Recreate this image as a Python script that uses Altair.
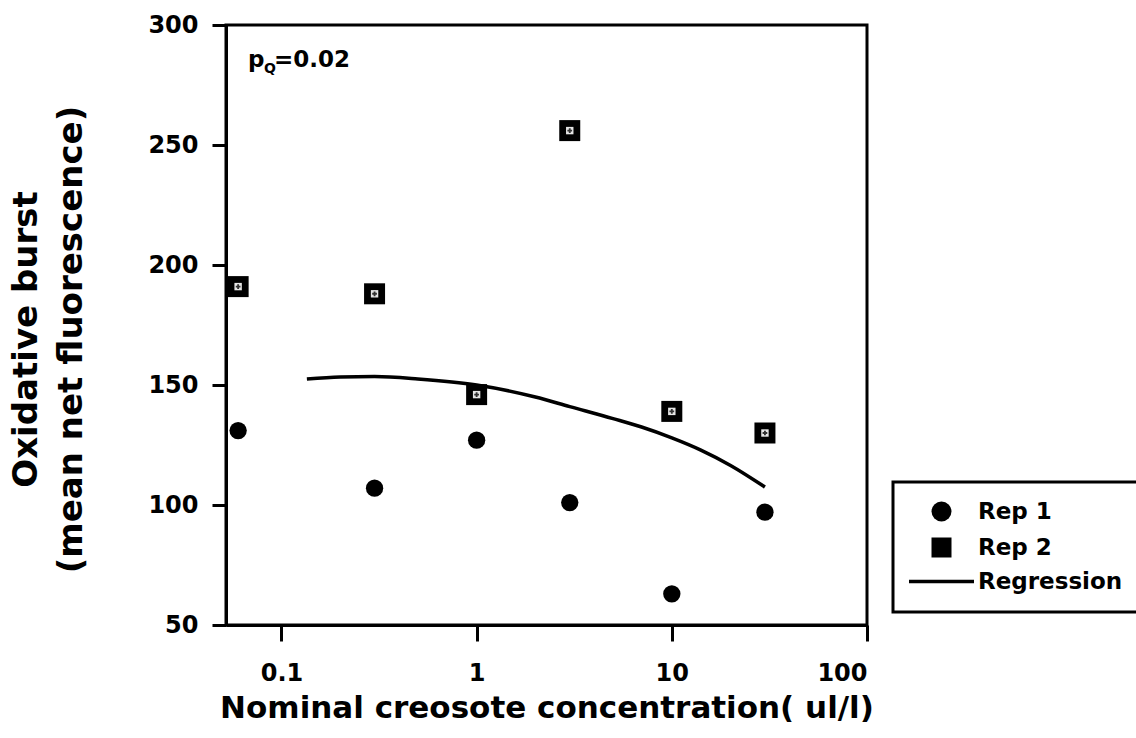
import altair as alt
import pandas as pd

# ---- data ----
conc = [0.06, 0.3, 1, 3, 10, 30]
rep1 = [131, 107, 127, 101, 63, 97]
rep2 = [191, 188, 146, 256, 139, 130]

reg_x = [0.135, 0.2, 0.3, 0.5, 1, 2, 3, 5, 7, 10, 14, 20, 30]
reg_y = [152.5, 153.3, 153.5, 152.5, 150, 145, 141, 136, 132.5, 128, 123, 116.5, 107.5]

x_ticks = [0.1, 1, 10, 100]
y_ticks = [50, 100, 150, 200, 250, 300]

series_names = ["Rep 1", "Rep 2", "Regression"]
# legend glyph for the regression entry: a long thin filled bar (custom symbol path)
line_glyph = "M-3.25,-0.17L3.25,-0.17L3.25,0.17L-3.25,0.17Z"

FONT = "DejaVu Sans"

rep1_df = pd.DataFrame({"conc": conc, "value": rep1, "series": ["Rep 1"] * len(conc)})
rep2_df = pd.DataFrame({"conc": conc, "value": rep2, "series": ["Rep 2"] * len(conc)})
reg_df = pd.DataFrame({"conc": reg_x, "value": reg_y})

x_enc = alt.X(
    "conc:Q",
    scale=alt.Scale(type="log", domain=[0.052, 100], nice=False),
    axis=alt.Axis(
        values=x_ticks,
        format="~g",
        title="Nominal creosote concentration( ul/l)",
        grid=False,
        tickSize=16,
        labelPadding=20,
        titlePadding=8,
    ),
)
y_enc = alt.Y(
    "value:Q",
    scale=alt.Scale(domain=[50, 300], nice=False, zero=False),
    axis=alt.Axis(
        values=y_ticks,
        title=["Oxidative burst", "(mean net fluorescence)"],
        grid=False,
        tickSize=14,
        labelPadding=14,
        titleX=-190,
        titleY=314,
        titleAngle=270,
        titleAlign="center",
        titleBaseline="alphabetic",
        titleLineHeight=45,
        titleFontSize=34,
    ),
)

shape_enc = alt.Shape(
    "series:N",
    scale=alt.Scale(domain=series_names, range=["circle", "square", line_glyph]),
    legend=alt.Legend(
        title=None,
        orient="none",
        legendX=667,
        legendY=457,
        direction="vertical",
    ),
)

pts1 = (
    alt.Chart(rep1_df)
    .mark_point(filled=True, color="black", opacity=1, size=300)
    .encode(x=x_enc, y=y_enc, shape=shape_enc)
)
pts2 = (
    alt.Chart(rep2_df)
    .mark_point(filled=True, color="black", opacity=1, size=441)
    .encode(x="conc:Q", y="value:Q", shape=shape_enc)
)

pattern_bg = (
    alt.Chart(rep2_df)
    .mark_point(shape="square", filled=True, color="#e6e6e6", size=55, opacity=1)
    .encode(x="conc:Q", y="value:Q")
)
pattern_fg = (
    alt.Chart(rep2_df)
    .mark_point(shape="cross", filled=True, color="#333333", size=22, opacity=1)
    .encode(x="conc:Q", y="value:Q")
)

line = (
    alt.Chart(reg_df)
    .mark_line(color="black", strokeWidth=3.5, interpolate="monotone")
    .encode(x="conc:Q", y="value:Q")
)

ann_p = (
    alt.Chart(pd.DataFrame({"t": ["p"]}))
    .mark_text(align="left", baseline="alphabetic", font=FONT, fontWeight="bold", fontSize=23, color="black")
    .encode(text="t:N", x=alt.value(22), y=alt.value(42))
)
ann_q = (
    alt.Chart(pd.DataFrame({"t": ["Q"]}))
    .mark_text(align="left", baseline="alphabetic", font=FONT, fontWeight="bold", fontSize=14, color="black")
    .encode(text="t:N", x=alt.value(38), y=alt.value(48))
)
ann_v = (
    alt.Chart(pd.DataFrame({"t": ["=0.02"]}))
    .mark_text(align="left", baseline="alphabetic", font=FONT, fontWeight="bold", fontSize=23, color="black")
    .encode(text="t:N", x=alt.value(48), y=alt.value(42))
)

chart = (
    alt.layer(line, pts1, pts2, pattern_bg, pattern_fg, ann_p, ann_q, ann_v)
    .properties(
        width=641,
        height=600,
        autosize=alt.AutoSizeParams(type="none"),
        padding={"left": 226, "top": 25, "right": 269, "bottom": 105},
        background="white",
    )
    .configure_view(stroke="black", strokeWidth=3)
    .configure_axis(
        domainColor="black",
        domainWidth=3,
        tickColor="black",
        tickWidth=3,
        labelFont=FONT,
        labelFontWeight="bold",
        labelFontSize=24,
        labelColor="black",
        titleFont=FONT,
        titleFontWeight="bold",
        titleFontSize=31,
        titleColor="black",
    )
    .configure_legend(
        strokeColor="black",
        strokeWidth=3,
        fillColor="white",
        padding=18,
        rowPadding=9,
        symbolSize=400,
        symbolOffset=19,
        labelOffset=25,
        labelFont=FONT,
        labelFontWeight="bold",
        labelFontSize=23,
        labelColor="black",
        symbolFillColor="black",
        symbolOpacity=1,
    )
)

chart.save("out.html", embed_options={"renderer": "svg", "actions": False})
